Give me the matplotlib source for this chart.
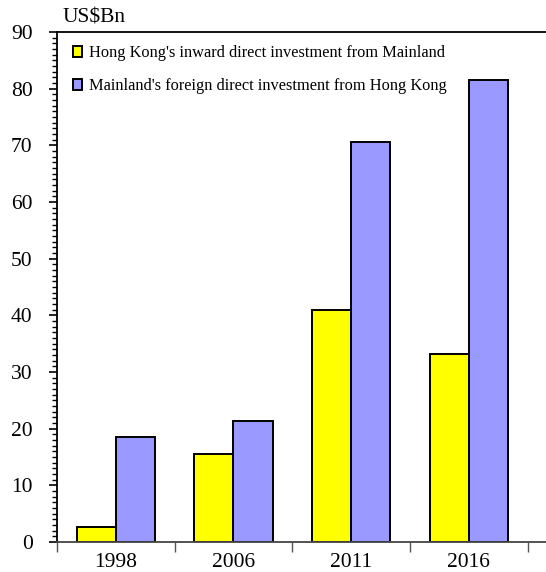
import matplotlib
matplotlib.use("Agg")
import matplotlib.pyplot as plt
import numpy as np

years = ["1998", "2006", "2011", "2016"]
hk_inward = [2.6, 15.5, 40.9, 33.2]
mainland_fdi = [18.6, 21.4, 70.6, 81.5]
labels = ["Hong Kong's inward direct investment from Mainland",
          "Mainland's foreign direct investment from Hong Kong"]

plt.rcParams["font.family"] = ["Liberation Serif", "DejaVu Serif"]

fig = plt.figure(figsize=(5.46, 5.72), dpi=100)
ax = fig.add_axes([0.1044, 0.0524, 0.8956, 0.8916])

x = np.arange(len(years))
w = 0.332
ax.bar(x - w / 2, hk_inward, w, color="#ffff00", edgecolor="black", linewidth=1.4, label=labels[0])
ax.bar(x + w / 2, mainland_fdi, w, color="#9999ff", edgecolor="black", linewidth=1.4, label=labels[1])

ax.set_ylim(0, 90)
ax.set_xlim(-0.5, 3.656)
ax.set_yticks(np.arange(0, 91, 10))
ax.set_yticks(np.arange(0, 91, 1), minor=True)
ax.tick_params(axis="y", which="major", direction="out", length=6, width=1.2, labelsize=15.5, pad=11.5)
ax.tick_params(axis="y", which="minor", direction="out", length=3.5, width=1.0)

# category boundaries as tick marks, labels at centers
ax.set_xticks(np.arange(-0.5, 4, 1))
ax.set_xticklabels([])
ax.tick_params(axis="x", which="major", direction="out", length=7, width=1.0, color="#555555")
ax.set_xticks(x, minor=True)
ax.set_xticklabels(years, minor=True)
ax.tick_params(axis="x", which="minor", length=0, labelsize=15.5, pad=8)

for s in ["left", "top"]:
    ax.spines[s].set_linewidth(1.3)
ax.spines["bottom"].set_color("#444444")
ax.spines["bottom"].set_linewidth(1.3)
ax.spines["right"].set_visible(False)

ax.text(0.012, 1.008, "US$Bn", transform=ax.transAxes, fontsize=15.5, ha="left", va="bottom")

ax.legend(loc="upper left", frameon=False, fontsize=11.8, handlelength=0.6, handleheight=0.6,
          handletextpad=0.4, labelspacing=1.05, bbox_to_anchor=(0.005, 1.0), borderaxespad=0.4)

fig.savefig("out.png", dpi=100)
